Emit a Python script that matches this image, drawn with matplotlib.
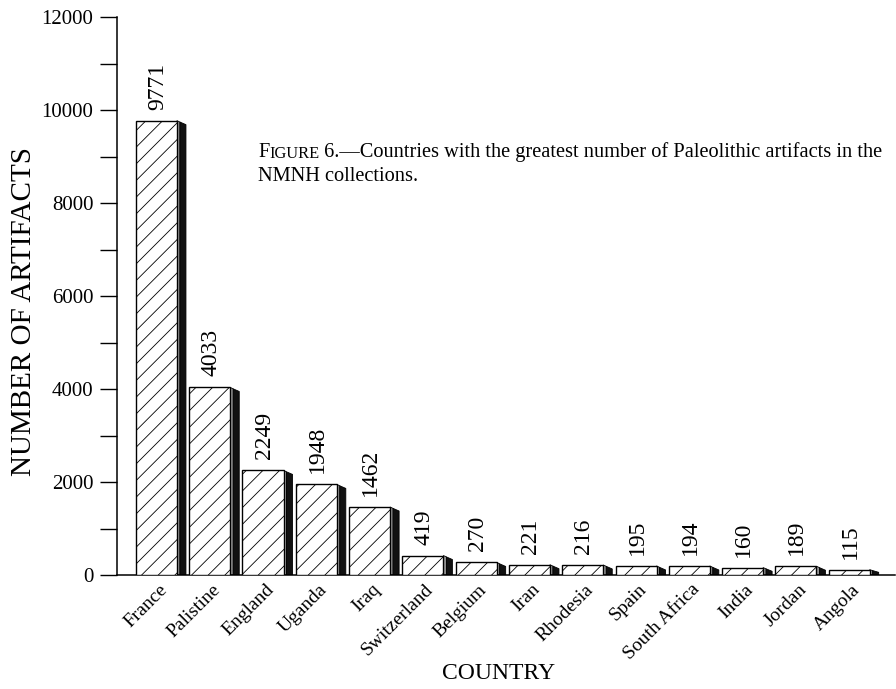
import matplotlib
matplotlib.use("Agg")
import matplotlib.pyplot as plt
from matplotlib.patches import Rectangle, Polygon
from matplotlib.ticker import MultipleLocator

plt.rcParams['font.family'] = ['Liberation Serif', 'DejaVu Serif']
plt.rcParams['hatch.linewidth'] = 0.6

# data
countries = ["France", "Palistine", "England", "Uganda", "Iraq", "Switzerland",
             "Belgium", "Iran", "Rhodesia", "Spain", "South Africa", "India",
             "Jordan", "Angola"]
artifacts = [9771, 4033, 2249, 1948, 1462, 419, 270, 221, 216, 195, 194, 160,
             189, 115]

fig = plt.figure(figsize=(8.96, 6.89), dpi=100)
ax = fig.add_axes([117 / 896, 1 - 575 / 689, 778 / 896, 558 / 689])

ax.set_xlim(-0.74, 13.86)
ax.set_ylim(0, 12000)

# pixel -> data helpers for the fake 3d side
px_x = (13.86 + 0.74) / 778
px_y = 12000 / 558

w = 0.77
for i, h in enumerate(artifacts):
    x0 = i - w / 2
    x1 = i + w / 2
    ax.add_patch(Rectangle((x0, 0), w, h, facecolor='white', edgecolor='black',
                           hatch='//', linewidth=1.0, zorder=3))
    dx = 9 * px_x
    dy = min(4 * px_y, h * 0.5)
    # grey strip then dark part of the side face
    ax.add_patch(Polygon([(x1, 0), (x1, h), (x1 + 3 * px_x, h - dy * 0.35),
                          (x1 + 3 * px_x, 0)], closed=True,
                         facecolor='#9a9a9a', edgecolor='black', linewidth=0.6, zorder=2))
    ax.add_patch(Polygon([(x1 + 3 * px_x, 0), (x1 + 3 * px_x, h - dy * 0.35),
                          (x1 + dx, h - dy), (x1 + dx, 0)], closed=True,
                         facecolor='#111111', edgecolor='black', linewidth=0.6, zorder=2))
    ax.annotate(str(h), xy=(i, h), xytext=(1, 11), textcoords='offset pixels',
                rotation=90, ha='center', va='bottom', fontsize=17)
    ax.annotate(countries[i], xy=(i, 0), xytext=(8, -12), textcoords='offset pixels',
                rotation=45, rotation_mode='anchor', ha='right', va='center',
                fontsize=14)

ax.spines['top'].set_visible(False)
ax.spines['right'].set_visible(False)
ax.spines['left'].set_linewidth(1.1)
ax.spines['bottom'].set_linewidth(1.1)
ax.set_xticks([])
ax.yaxis.set_major_locator(MultipleLocator(2000))
ax.yaxis.set_minor_locator(MultipleLocator(1000))
ax.tick_params(axis='y', which='both', direction='out', length=12, width=1.0,
               labelsize=15, pad=5)

ax.set_ylabel("NUMBER OF ARTIFACTS", fontsize=21)
ax.yaxis.set_label_coords(-0.103, 0.473)
ax.set_xlabel("COUNTRY", fontsize=17)
ax.xaxis.set_label_coords(0.49, -0.157)

# caption with small caps "FIGURE"
t1 = fig.text(258 / 896, 1 - 162 / 689, "F", fontsize=14.7, va='bottom')
t2 = ax.annotate("IGURE", xy=(1, 0), xycoords=t1, fontsize=11.8, va='bottom',
                 annotation_clip=False)
ax.annotate(" 6.\u2014Countries with the greatest number of Paleolithic artifacts in the",
            xy=(1, 0), xycoords=t2, fontsize=14.7, va='bottom', annotation_clip=False)
fig.text(258 / 896, 1 - 186 / 689, "NMNH collections.", fontsize=14.7, va='bottom')

fig.savefig("out.png", dpi=100)
